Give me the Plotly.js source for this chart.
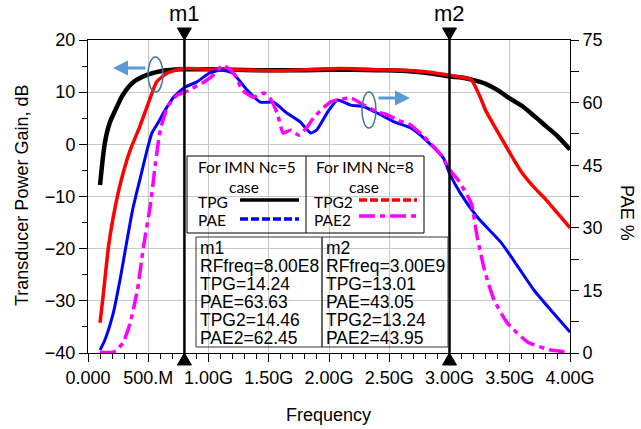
<!DOCTYPE html>
<html>
<head>
<meta charset="utf-8">
<script src="https://cdn.plot.ly/plotly-3.0.1.min.js"></script>
<style>html,body{margin:0;padding:0;background:#fff;}#chart{width:641px;height:429px;}</style>
</head>
<body>
<div id="chart"></div>
<script>
// ---------------- DATA ----------------
const fTPG = [0.1,0.14,0.18,0.24,0.29,0.37,0.49,0.62,0.77,0.9,1.0,1.2,1.4,1.6,1.8,2.0,2.2,2.4,2.6,2.8,2.9,3.0,3.1,3.2,3.3,3.4,3.5,3.6,3.7,3.8,3.9,4.0];
const tpg  = [-7.8,0.3,4.1,7.2,9.5,11.8,13.3,14.1,14.4,14.4,14.4,14.3,14.2,14.2,14.2,14.3,14.3,14.2,14.1,13.7,13.4,13.01,12.8,12.3,11.6,10.4,8.8,7.4,5.5,3.5,1.5,-1.0];

const fTPG2 = [0.1,0.125,0.17,0.21,0.27,0.35,0.43,0.52,0.57,0.66,0.77,0.9,1.0,1.2,1.4,1.6,1.8,2.0,2.2,2.4,2.6,2.8,2.9,3.0,3.1,3.18,3.25,3.3,3.35,3.4,3.45,3.5,3.6,3.7,3.8,3.9,4.0];
const tpg2  = [-34.2,-29.2,-19.6,-13.9,-7.4,-1.1,3.4,9.1,12.0,13.7,14.46,14.5,14.4,14.3,14.2,14.1,14.3,14.5,14.5,14.3,14.2,13.9,13.6,13.24,12.9,12.4,9.3,6.5,4.4,2.4,0.4,-1.6,-5.4,-8.2,-10.6,-13.3,-16.0];

const fPAE = [0.1,0.14,0.21,0.27,0.32,0.37,0.43,0.49,0.53,0.58,0.64,0.71,0.8,0.9,1.01,1.1,1.2,1.32,1.43,1.54,1.65,1.76,1.85,1.9,1.99,2.07,2.18,2.29,2.4,2.54,2.68,2.82,2.95,3.0,3.09,3.23,3.43,3.57,3.7,3.84,4.0];
const pae  = [0.7,3.1,9.6,18.2,26.4,34.3,41.5,48.6,52.7,55.1,58.2,61.3,63.63,64.9,67.1,67.8,67.1,63.0,60.1,60.1,57.5,55.4,52.7,53.5,57.8,60.6,59.4,59.0,57.5,55.4,53.9,50.6,46.7,43.05,38.3,32.6,26.4,20.6,15.1,10.3,5.0];

const fPAE2 = [0.1,0.21,0.29,0.35,0.41,0.46,0.52,0.56,0.6,0.66,0.74,0.8,0.96,1.04,1.12,1.22,1.28,1.37,1.46,1.51,1.57,1.62,1.68,1.75,1.82,1.87,2.01,2.18,2.29,2.4,2.49,2.57,2.68,2.79,2.93,3.0,3.07,3.18,3.23,3.29,3.37,3.48,3.65,3.84,4.0];
const pae2  = [0.2,0.2,2.4,7.2,15.1,25.4,35.9,45.5,53.4,59.0,61.8,62.45,64.9,66.6,69.0,66.6,63.0,61.3,62.3,61.1,57.5,52.7,53.4,52.2,54.2,56.3,60.1,61.1,59.4,57.8,57.0,55.8,54.6,51.8,47.4,43.95,41.5,35.9,27.8,19.9,12.7,7.2,2.6,0.7,0.2];

const xTickVals = [0,0.5,1.0,1.5,2.0,2.5,3.0,3.5,4.0];
const xTickText = ["0.000","500.M","1.00G","1.50G","2.00G","2.50G","3.00G","3.50G","4.00G"];
const yTickVals = [-40,-30,-20,-10,0,10,20];
const y2TickVals = [0,15,30,45,60,75];

const markerNames = ["m1","m2"];
const markerFreqs = [0.8,3.0];
const markerText = [
  ["m1","RFfreq=8.00E8","TPG=14.24","PAE=63.63","TPG2=14.46","PAE2=62.45"],
  ["m2","RFfreq=3.00E9","TPG=13.01","PAE=43.05","TPG2=13.24","PAE2=43.95"]
];
const legendHeads = ["For IMN Nc=5","For IMN Nc=8"];
const legendNames = [["TPG","PAE"],["TPG2","PAE2"]];

// ---------------- LAYOUT HELPERS ----------------
const L=88, R=570, T=40, B=353;
const px = p => (p-L)/(R-L);
const py = p => (B-p)/(B-T);
const FONT = '"Liberation Sans", Arial, sans-serif';
const LFONT = 'Lato, "Open Sans", sans-serif';

const traces = [
  {x:fTPG, y:tpg, mode:'lines', line:{color:'#000000', width:4.5, shape:'spline', smoothing:0.8}, yaxis:'y'},
  {x:fTPG2, y:tpg2, mode:'lines', line:{color:'#ff0000', width:3.5, shape:'spline', smoothing:0.5}, yaxis:'y'},
  {x:fPAE, y:pae, mode:'lines', line:{color:'#0000ff', width:3, shape:'spline', smoothing:0.5}, yaxis:'y2'},
  {x:fPAE2, y:pae2, mode:'lines', line:{color:'#ff00ff', width:3.5, dash:'16px,5px,5px,5px', shape:'spline', smoothing:0.5}, yaxis:'y2'}
];

const shapes = [];
const annotations = [];

// marker lines and triangles
markerFreqs.forEach((f,i)=>{
  shapes.push({type:'line', xref:'x', yref:'paper', x0:f, x1:f, y0:0, y1:1, line:{color:'#000', width:2.5}});
  shapes.push({type:'path', xref:'x', yref:'paper', xsizemode:'pixel', ysizemode:'pixel', xanchor:f, yanchor:1,
    path:'M -7 12 L 7 12 L 0 0 Z', fillcolor:'#000', line:{color:'#000', width:1}});
  shapes.push({type:'path', xref:'x', yref:'paper', xsizemode:'pixel', ysizemode:'pixel', xanchor:f, yanchor:0,
    path:'M -7 -12 L 7 -12 L 0 0 Z', fillcolor:'#000', line:{color:'#000', width:1}});
  annotations.push({xref:'x', yref:'paper', x:f, y:1, yshift:12, yanchor:'bottom', xanchor:'center',
    text:markerNames[i], showarrow:false, font:{family:FONT, size:22, color:'#000'}});
});

// marker readout table
const tblX = [196,322,448], tblTop=237, tblBot=347;
for(let i=0;i<2;i++){
  shapes.push({type:'rect', xref:'paper', yref:'paper', x0:px(tblX[i]), x1:px(tblX[i+1]), y0:py(tblBot), y1:py(tblTop),
    line:{color:'#333', width:1}});
  markerText[i].forEach((t,j)=>{
    annotations.push({xref:'paper', yref:'paper', x:px(tblX[i]+2), y:py(248+j*18), xanchor:'left', yanchor:'middle',
      text:t, showarrow:false, font:{family:FONT, size:17.5, color:'#000'}});
  });
}

// legend box
const lgX=[187,306,424], lgTop=156, lgBot=233;
shapes.push({type:'rect', xref:'paper', yref:'paper', x0:px(lgX[0]), x1:px(lgX[2]), y0:py(lgBot), y1:py(lgTop), line:{color:'#000', width:1}});
shapes.push({type:'line', xref:'paper', yref:'paper', x0:px(lgX[1]), x1:px(lgX[1]), y0:py(lgBot), y1:py(lgTop), line:{color:'#000', width:1}});
const headCx=[247,365], caseCx=[244,364];
for(let i=0;i<2;i++){
  annotations.push({xref:'paper', yref:'paper', x:px(headCx[i]), y:py(167), xanchor:'center', yanchor:'middle', text:legendHeads[i], showarrow:false, font:{family:LFONT, size:15.5, color:'#000'}});
  annotations.push({xref:'paper', yref:'paper', x:px(caseCx[i]), y:py(187), xanchor:'center', yanchor:'middle', text:'case', showarrow:false, font:{family:LFONT, size:15.5, color:'#000'}});
}
const nameX=[196,312];
const rowY=[202,220];
for(let i=0;i<2;i++) for(let j=0;j<2;j++){
  annotations.push({xref:'paper', yref:'paper', x:px(nameX[i]), y:py(rowY[j]), xanchor:'left', yanchor:'middle', text:legendNames[i][j], showarrow:false, font:{family:LFONT, size:15.5, color:'#000'}});
}
const lgLines = [
  {x0:240,x1:299,y:200,color:'#000000',dash:'solid'},
  {x0:240,x1:299,y:219,color:'#0000ff',dash:'8px,3px'},
  {x0:359,x1:417,y:200,color:'#ff0000',dash:'8px,3px'},
  {x0:359,x1:420,y:216,color:'#ff00ff',dash:'16px,5px,5px,5px'}
];
lgLines.forEach(s=>shapes.push({type:'line', xref:'paper', yref:'paper', x0:px(s.x0), x1:px(s.x1), y0:py(s.y), y1:py(s.y), line:{color:s.color, width:3.5, dash:s.dash}}));

// ellipses and arrows
shapes.push({type:'circle', xref:'paper', yref:'paper', x0:px(148), x1:px(163), y0:py(92), y1:py(57), line:{color:'#41719c', width:1.5}});
shapes.push({type:'circle', xref:'paper', yref:'paper', x0:px(362), x1:px(376), y0:py(128), y1:py(92), line:{color:'#41719c', width:1.5}});
annotations.push({xref:'paper', yref:'paper', x:px(113), y:py(68), ax:34, ay:0, text:'', showarrow:true, arrowhead:2, arrowsize:1, arrowwidth:3, arrowcolor:'#5b9bd5'});
annotations.push({xref:'paper', yref:'paper', x:px(410), y:py(98), ax:-33, ay:0, text:'', showarrow:true, arrowhead:2, arrowsize:1, arrowwidth:3, arrowcolor:'#5b9bd5'});

// axis titles
annotations.push({xref:'paper', yref:'paper', x:px(22), y:py(196), text:'Transducer Power Gain, dB', textangle:-90, showarrow:false, xanchor:'center', yanchor:'middle', font:{family:FONT, size:18, color:'#000'}});
annotations.push({xref:'paper', yref:'paper', x:px(627), y:py(213), text:'PAE %', textangle:90, showarrow:false, xanchor:'center', yanchor:'middle', font:{family:FONT, size:18, color:'#000'}});
annotations.push({xref:'paper', yref:'paper', x:px(328), y:py(415), text:'Frequency', showarrow:false, xanchor:'center', yanchor:'middle', font:{family:FONT, size:18, color:'#000'}});

const tickFont = {family:FONT, size:18, color:'#000'};
const layout = {
  width:641, height:429,
  margin:{l:L, r:641-R, t:T, b:429-B, pad:0},
  paper_bgcolor:'#fff', plot_bgcolor:'#fff',
  showlegend:false,
  xaxis:{range:[0,4], tickvals:xTickVals, ticktext:xTickText, ticks:'outside', ticklen:8, tickcolor:'#000',
    showline:true, linecolor:'#000', linewidth:1, mirror:true, showgrid:true, gridcolor:'#c8c8c8', gridwidth:1,
    zeroline:false, tickfont:tickFont,
    minor:{dtick:0.1, tick0:0, ticks:'outside', ticklen:5, tickcolor:'#000', showgrid:false}},
  yaxis:{range:[-40,20], tickvals:yTickVals, ticks:'outside', ticklen:8, tickcolor:'#000',
    showline:true, linecolor:'#000', linewidth:1, showgrid:true, gridcolor:'#c8c8c8', gridwidth:1, zeroline:false, tickfont:tickFont,
    minor:{dtick:5, tick0:0, ticks:'outside', ticklen:5, tickcolor:'#000', showgrid:false}},
  yaxis2:{range:[0,75], overlaying:'y', side:'right', tickvals:y2TickVals, ticks:'outside', ticklen:8, tickcolor:'#000',
    showline:true, linecolor:'#000', linewidth:1, showgrid:false, zeroline:false, tickfont:tickFont,
    minor:{dtick:7.5, tick0:0, ticks:'outside', ticklen:8, tickcolor:'#000', showgrid:false}},
  shapes:shapes,
  annotations:annotations
};
Plotly.newPlot('chart', traces, layout, {staticPlot:true, displayModeBar:false});
</script>
</body>
</html>
